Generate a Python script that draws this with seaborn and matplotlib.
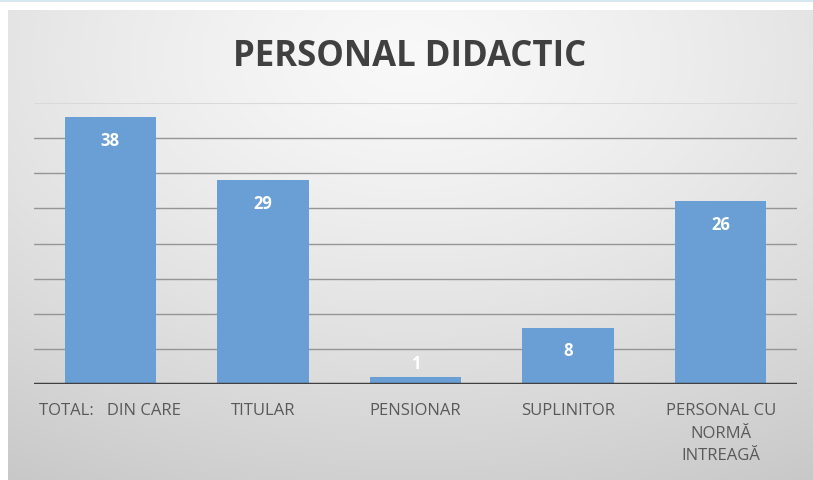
import numpy as np
import pandas as pd
import matplotlib
matplotlib.use("Agg")
import matplotlib.pyplot as plt
import seaborn as sns

categories = ["TOTAL:   DIN CARE", "TITULAR", "PENSIONAR", "SUPLINITOR", "PERSONAL CU\nNORMĂ\nINTREAGĂ"]
values = [38, 29, 1, 8, 26]
title = "PERSONAL DIDACTIC"

sns.set_theme(style="white")
plt.rcParams['font.family'] = ['Open Sans', 'DejaVu Sans']

W, H = 813, 481
fig = plt.figure(figsize=(W / 100, H / 100), dpi=100, facecolor="white")

# background panel with radial gradient
bg = fig.add_axes([8 / W, 0, 1 - 8 / W, 1 - 11 / H])
bg.set_axis_off()
ny, nx = 200, 340
yy, xx = np.mgrid[0:ny, 0:nx]
cx, cy = nx * 0.5, ny * 0.1
d = np.sqrt(((xx - cx) / nx) ** 2 + ((yy - cy) / ny) ** 2 * 0.9)
d = d / d.max()
shade = 0.975 - 0.19 * d ** 1.3
img = np.dstack([shade, shade, shade])
bg.imshow(img, aspect="auto", extent=[0, 1, 0, 1], origin="upper")
bg.set_xlim(0, 1)
bg.set_ylim(0, 1)

# top light-blue strip
strip = fig.add_axes([0, 1 - 3 / H, 1, 3 / H])
strip.set_axis_off()
strip.add_patch(plt.Rectangle((0, 0), 1, 1, color="#d5e8f3", transform=strip.transAxes))

ax = fig.add_axes([34 / W, 1 - 385 / H, (797 - 34) / W, (385 - 104) / H])
ax.patch.set_alpha(0)
df = pd.DataFrame({"cat": categories, "val": values})
sns.barplot(data=df, x="cat", y="val", ax=ax, color="#6a9fd6", saturation=1,
            width=0.6, zorder=3, linewidth=0, edgecolor="none")
ax.set_ylim(0, 40)
ax.set_xlim(-0.5, 4.5)
for yv in range(5, 40, 5):
    ax.axhline(yv, color="#959595", lw=1.0, zorder=1)
ax.axhline(40, color="#d9d9d9", lw=1.5, zorder=1)
ax.axhline(0, color="#404040", lw=2.5, zorder=4)
for s in ax.spines.values():
    s.set_visible(False)
ax.set_yticks([])
ax.set_xlabel("")
ax.set_ylabel("")
ax.tick_params(axis="x", length=0, pad=13, labelsize=12, labelcolor="#595959")
for lab in ax.get_xticklabels():
    lab.set_linespacing(1.55)

for i, v in enumerate(values):
    if v >= 3:
        ax.text(i, v - 3.2, str(v), ha="center", va="center", color="white",
                fontsize=12, fontweight="bold", zorder=5)
    else:
        ax.text(i, v + 2.0, str(v), ha="center", va="center", color="white",
                fontsize=12, fontweight="bold", zorder=5)

fig.text(410 / W, 1 - 57 / H, title, ha="center", va="center",
         fontsize=25, fontweight="bold", color="#404040")

fig.savefig("out.png", dpi=100, facecolor="white")
